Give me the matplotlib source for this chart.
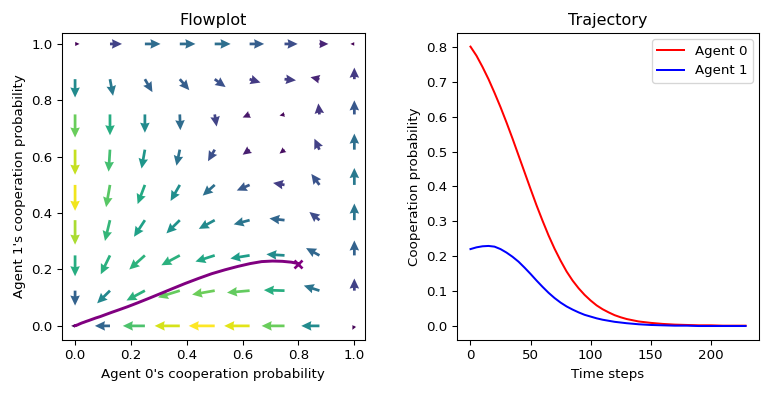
import numpy as np
import matplotlib.pyplot as plt

# grid of the flow plot (9 x 9 points on [0, 1])
grid = np.linspace(0, 1, 9)

# arrow components, first row is y = 0, last row is y = 1
U = [
    [-0.014, -0.054, -0.079, -0.090, -0.093, -0.091, -0.082, -0.065, -0.007],
    [0.000, -0.046, -0.066, -0.078, -0.081, -0.081, -0.074, -0.056, 0.000],
    [0.000, -0.033, -0.056, -0.066, -0.069, -0.069, -0.065, -0.048, 0.000],
    [0.000, -0.018, -0.039, -0.048, -0.057, -0.057, -0.054, -0.036, 0.000],
    [0.000, -0.014, -0.026, -0.033, -0.043, -0.046, -0.041, -0.029, 0.000],
    [0.000, -0.005, -0.012, -0.012, -0.024, -0.025, -0.018, -0.018, 0.000],
    [0.000, 0.000, 0.000, 0.002, 0.007, -0.025, -0.018, -0.004, 0.000],
    [0.000, 0.011, 0.027, 0.034, 0.039, 0.039, 0.041, -0.032, 0.000],
    [0.016, 0.043, 0.056, 0.056, 0.057, 0.052, 0.047, 0.032, -0.014],
]
V = [
    [0.000, 0.000, 0.000, 0.000, 0.000, 0.000, 0.000, 0.000, -0.014],
    [-0.053, -0.045, -0.035, -0.024, -0.014, -0.007, 0.002, 0.018, 0.043],
    [-0.074, -0.067, -0.050, -0.035, -0.022, -0.011, 0.004, 0.026, 0.053],
    [-0.087, -0.074, -0.059, -0.047, -0.031, -0.015, 0.006, 0.029, 0.059],
    [-0.092, -0.079, -0.068, -0.057, -0.038, -0.020, 0.007, 0.039, 0.060],
    [-0.089, -0.078, -0.067, -0.057, -0.041, -0.018, -0.014, 0.039, 0.057],
    [-0.082, -0.074, -0.065, -0.056, -0.043, -0.011, -0.004, 0.039, 0.050],
    [-0.065, -0.059, -0.046, -0.039, -0.028, -0.012, -0.004, 0.007, 0.041],
    [0.000, 0.000, 0.000, 0.000, 0.000, 0.000, 0.000, 0.000, 0.000],
]

# learning trajectory (every 5 steps early on, every 10 steps later)
steps = [0, 5, 10, 15, 20, 25, 30, 35, 40, 45, 50, 55, 60, 65, 70, 75, 80,
         85, 90, 95, 100, 105, 110, 115, 120, 125, 130, 140, 150, 160, 170,
         180, 190, 200, 210, 220, 229]
agent0 = [0.800, 0.774, 0.742, 0.707, 0.668, 0.627, 0.583, 0.537, 0.489,
          0.441, 0.393, 0.346, 0.302, 0.260, 0.222, 0.188, 0.157, 0.131,
          0.109, 0.090, 0.074, 0.060, 0.049, 0.040, 0.032, 0.026, 0.021,
          0.014, 0.010, 0.007, 0.005, 0.004, 0.003, 0.003, 0.002, 0.002, 0.002]
agent1 = [0.221, 0.226, 0.229, 0.230, 0.228, 0.221, 0.211, 0.199, 0.185,
          0.168, 0.150, 0.131, 0.113, 0.096, 0.081, 0.068, 0.057, 0.048,
          0.040, 0.033, 0.028, 0.023, 0.019, 0.016, 0.013, 0.011, 0.009,
          0.006, 0.004, 0.003, 0.002, 0.002, 0.001, 0.001, 0.001, 0.001, 0.001]

fig = plt.figure(figsize=(8, 4.09375), dpi=96)
ax1 = fig.add_axes([0.0803, 0.1349, 0.3949, 0.782])
ax2 = fig.add_axes([0.5947, 0.1349, 0.394, 0.782])

# flow plot
X, Y = np.meshgrid(grid, grid)
U = np.array(U)
V = np.array(V)
speed = U ** 2 + V ** 2
ax1.quiver(X, Y, U, V, speed, cmap='viridis', angles='xy',
           scale_units='xy', scale=1, width=0.009,
           headwidth=3.5, headlength=3.7, headaxislength=3.4)
ax1.plot(agent0, agent1, color='purple', lw=2.2)
ax1.plot(agent0[0], agent1[0], 'x', color='purple', ms=6, mew=2)
ax1.set_xlim(-0.048, 1.038)
ax1.set_ylim(-0.05, 1.04)
ax1.set_title('Flowplot')
ax1.set_xlabel("Agent 0's cooperation probability")
ax1.set_ylabel("Agent 1's cooperation probability")

# trajectory over time
ax2.plot(steps, agent0, color='red', label='Agent 0')
ax2.plot(steps, agent1, color='blue', label='Agent 1')
ax2.set_title('Trajectory')
ax2.set_xlabel('Time steps')
ax2.set_ylabel('Cooperation probability')
ax2.legend(loc='upper right')

fig.savefig('out.png', dpi=96)
